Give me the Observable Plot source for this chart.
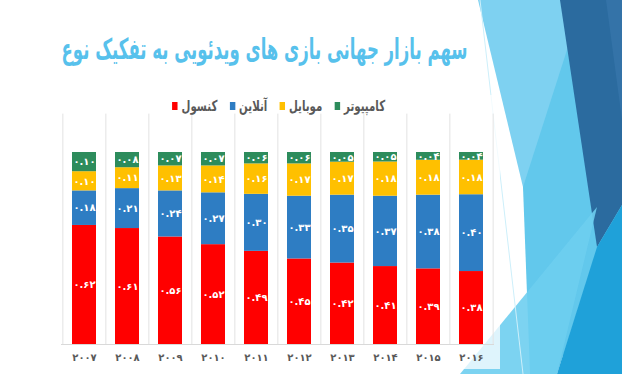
<!DOCTYPE html>
<html><head><meta charset="utf-8">
<script src="https://cdn.jsdelivr.net/npm/d3@7"></script>
<script src="https://cdn.jsdelivr.net/npm/@observablehq/plot@0.6"></script>
<style>
html,body{margin:0;padding:0;background:#fff;}
#wrap{position:relative;width:622px;height:374px;overflow:hidden;font-family:"DejaVu Sans",sans-serif;}
#bg{position:absolute;left:0;top:0;}
#chart{position:absolute;left:0;top:0;}
#title{position:absolute;right:154px;top:30px;direction:rtl;color:#57C1EC;font-weight:bold;font-size:29px;white-space:nowrap;line-height:38px;transform-origin:right center;display:inline-block;}
#legend{position:absolute;top:97px;display:flex;direction:rtl;gap:18px;font-size:15px;font-weight:bold;color:#595959;white-space:nowrap;transform-origin:right center;}
.item{display:flex;align-items:center;gap:6px;}
.sw{width:8px;height:8px;display:inline-block;}
</style></head>
<body><div id="wrap">
<svg id="bg" width="622" height="374">
  <polygon points="478,0 622,0 622,374 568,374" fill="#7ED1F1"/>
  <polygon points="575,25 600,240 557,374 530,374 523,187" fill="#62C8EC"/>
  <polygon points="560,0 622,0 622,205 597,247" fill="#2B6B9F"/>
  <polygon points="606,0 622,0 622,120" fill="#3473A8"/>
  <polygon points="597,247 622,205 622,374 557,374" fill="#1FA1D9"/>
  <polygon points="460,374 597,207 557,374" fill="#6ECEEF" opacity="0.9"/>
  <line x1="480" y1="0" x2="523" y2="374" stroke="#CDEFFA" stroke-width="1"/>
  <rect x="40" y="95" width="460" height="274" fill="#fff" opacity="0.75"/>
</svg>
<div id="chart"></div>
<div id="title">سهم بازار جهانی بازی های ویدئویی به تفکیک نوع</div>
<div id="legend"></div>
</div>
<script>
const years = ["2007","2008","2009","2010","2011","2012","2013","2014","2015","2016"];
const yearLabels = ["۲۰۰۷","۲۰۰۸","۲۰۰۹","۲۰۱۰","۲۰۱۱","۲۰۱۲","۲۰۱۳","۲۰۱۴","۲۰۱۵","۲۰۱۶"];
const types = ["کنسول","آنلاین","موبایل","کامپیوتر"];
const colors = ["#FF0000","#2E7DC3","#FFC000","#2D8C5C"];
const consoleShare = [0.62,0.61,0.56,0.52,0.49,0.45,0.42,0.41,0.39,0.38];
const onlineShare  = [0.18,0.21,0.24,0.27,0.30,0.33,0.35,0.37,0.38,0.40];
const mobileShare  = [0.10,0.11,0.13,0.14,0.16,0.17,0.17,0.18,0.18,0.18];
const pcShare      = [0.10,0.08,0.07,0.07,0.06,0.06,0.05,0.05,0.04,0.04];

const series = [consoleShare, onlineShare, mobileShare, pcShare];
const data = [];
types.forEach((t,i)=>years.forEach((y,j)=>data.push({year:y,type:t,value:series[i][j]})));

const faDigits = "۰۱۲۳۴۵۶۷۸۹";
const toFa = s => String(s).replace(/\d/g, d => faDigits[+d]);
const fmt = v => toFa(d3.format(".2f")(v));
const yearLabel = y => yearLabels[years.indexOf(y)];

const W = 622, H = 374, mL = 61, mR = 128, mT = 152, mB = 30;
const step = (W - mL - mR) / years.length;

const chart = Plot.plot({
  width: W, height: H,
  marginLeft: mL, marginRight: mR, marginTop: mT, marginBottom: mB,
  style: {background: "transparent", fontFamily: "DejaVu Sans, sans-serif"},
  x: {domain: years, paddingInner: 0.44, paddingOuter: 0.22, label: null},
  y: {domain: [0, 1], axis: null},
  color: {domain: types, range: colors},
  marks: [
    Plot.ruleX(years, {x: d => d, y1: 0, y2: 1.2, dx: -step/2, stroke: "#E3E3E3", clip: false}),
    Plot.ruleX(years.slice(-1), {x: d => d, y1: 0, y2: 1.2, dx: step/2, stroke: "#E3E3E3", clip: false}),
    Plot.ruleY([0], {stroke: "#D9D9D9"}),
    Plot.barY(data, Plot.stackY({x: "year", y: "value", z: "type", fill: "type", order: types, offset: "normalize"})),
    Plot.text(data, Plot.stackY({x: "year", y: "value", z: "type", order: types, offset: "normalize",
      text: d => fmt(d.value), fill: "white", fontWeight: "bold", fontSize: 10})),
    Plot.axisX({tickSize: 0, tickPadding: 9, tickFormat: yearLabel, fontSize: 10, fontWeight: "bold", color: "#595959", label: null})
  ]
});
document.getElementById("chart").appendChild(chart);

const legend = document.getElementById("legend");
[...types].reverse().forEach((t) => {
  const i = types.indexOf(t);
  const it = document.createElement("div"); it.className = "item";
  const lab = document.createElement("span"); lab.textContent = t;
  const sw = document.createElement("span"); sw.className = "sw"; sw.style.background = colors[i];
  it.appendChild(lab); it.appendChild(sw);
  legend.appendChild(it);
});

// fit title into 62..468 and legend into 172..385 by horizontal scaling
const title = document.getElementById("title");
const tw = title.getBoundingClientRect().width;
title.style.transform = `scaleX(${406 / tw})`;
const lw = legend.getBoundingClientRect().width;
legend.style.right = (622 - 385) + "px";
legend.style.transform = `scaleX(${213 / lw})`;
</script>
</body></html>
